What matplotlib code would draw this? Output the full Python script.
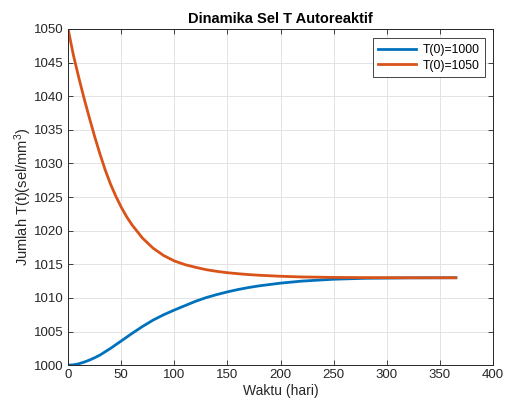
import matplotlib
matplotlib.use("Agg")
import matplotlib.pyplot as plt

# values
t_1000 = [0, 5, 10, 15, 20, 25, 30, 40, 50, 60, 70, 80, 90, 100, 110, 120, 130,
          140, 150, 160, 170, 180, 200, 220, 250, 280, 320, 365]
T_1000 = [1000.0, 1000.05, 1000.2, 1000.45, 1000.75, 1001.1, 1001.5, 1002.5,
          1003.6, 1004.7, 1005.75, 1006.7, 1007.5, 1008.2, 1008.85, 1009.5,
          1010.05, 1010.5, 1010.9, 1011.25, 1011.55, 1011.8, 1012.2, 1012.5,
          1012.78, 1012.92, 1012.98, 1013.0]
t_1050 = [0, 5, 10, 15, 20, 25, 30, 35, 40, 45, 50, 55, 60, 70, 80, 90, 100,
          110, 120, 130, 140, 150, 160, 170, 180, 200, 220, 250, 280, 320, 365]
T_1050 = [1050.0, 1046.1, 1042.8, 1039.7, 1036.8, 1034.0, 1031.4, 1029.0,
          1026.9, 1025.1, 1023.5, 1022.1, 1020.9, 1018.9, 1017.4, 1016.3,
          1015.5, 1014.95, 1014.55, 1014.2, 1013.95, 1013.75, 1013.6, 1013.47,
          1013.37, 1013.22, 1013.12, 1013.05, 1013.02, 1013.0, 1013.0]
labels = ["T(0)=1000", "T(0)=1050"]
xticks = list(range(0, 401, 50))
yticks = list(range(1000, 1051, 5))

plt.rcParams.update({"font.family": ["Liberation Sans", "DejaVu Sans"],
                     "mathtext.fontset": "custom",
                     "mathtext.rm": "Liberation Sans",
                     "mathtext.it": "Liberation Sans"})

AX = "#262626"
fig = plt.figure(figsize=(5.12, 4.08), dpi=100)
ax = fig.add_axes([0.133, 0.105, 0.830, 0.824])
ax.plot(t_1000, T_1000, color="#0072BD", lw=2.0, label=labels[0])
ax.plot(t_1050, T_1050, color="#D95319", lw=2.0, label=labels[1])

ax.set_xlim(0, 400)
ax.set_ylim(1000, 1050)
ax.set_xticks(xticks)
ax.set_yticks(yticks)
ax.grid(True, color="#e3e3e3", lw=0.7)
ax.set_axisbelow(True)
for s in ax.spines.values():
    s.set_color(AX)
    s.set_linewidth(0.7)
ax.tick_params(direction="in", top=True, right=True, length=3.5, width=0.6,
               colors=AX, labelsize=9.5, pad=3)

ax.set_title("Dinamika Sel T Autoreaktif", fontsize=10.5, fontweight="bold",
             color="black", pad=4)
ax.set_xlabel("Waktu (hari)", fontsize=10, color=AX, labelpad=2)
ax.set_ylabel("Jumlah T(t)(sel/mm$^{3}$)", fontsize=10.5, color=AX, labelpad=0)

leg = ax.legend(loc="upper right", fontsize=8.8, fancybox=False,
                framealpha=1, edgecolor="#262626", handlelength=3.1,
                borderpad=0.45, labelspacing=0.3, handletextpad=0.5,
                bbox_to_anchor=(0.995, 0.99))
leg.get_frame().set_linewidth(0.6)

fig.savefig("out.png", dpi=100, facecolor="white")
